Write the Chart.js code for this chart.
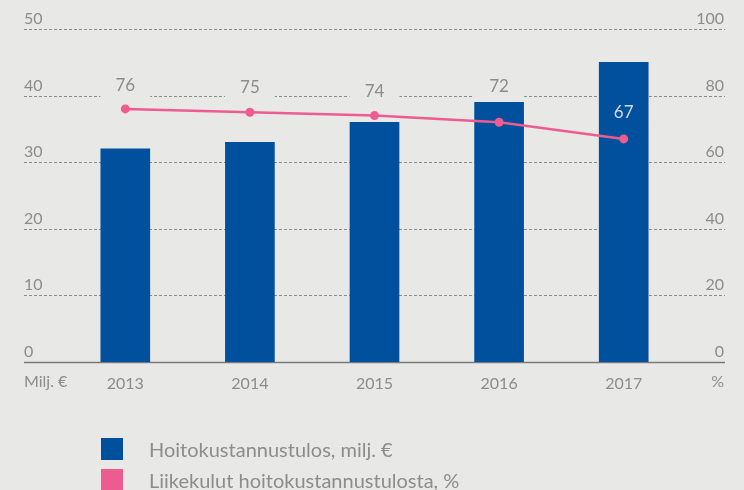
<!DOCTYPE html>
<html>
<head>
<meta charset="utf-8">
<script src="https://cdn.jsdelivr.net/npm/chart.js@4"></script>
<style>
  html, body { margin: 0; padding: 0; background: #e8e8e7; }
  #wrap { position: relative; width: 744px; height: 490px; overflow: hidden; }
  #c { position: absolute; left: 0; top: 0; }
  .legend { position: absolute; left: 101px; font: 20px Lato, "Open Sans", sans-serif; color: #8c8c8c; }
  .legend div { position: relative; height: 31px; line-height: 22px; padding-left: 48px; white-space: nowrap; }
  .legend span { position: absolute; left: 0; top: 0; width: 22px; height: 22px; }
</style>
</head>
<body>
<div id="wrap">
  <canvas id="c" width="744" height="490"></canvas>
  <div class="legend" style="top:438px">
    <div><span style="background:#00509e"></span>Hoitokustannustulos, milj. €</div>
    <div><span style="background:#ee5b90"></span>Liikekulut hoitokustannustulosta, %</div>
  </div>
</div>
<script>
const years      = ["2013", "2014", "2015", "2016", "2017"];
const result     = [32, 33, 36, 39, 45];      // milj. €
const costShare  = [76, 75, 74, 72, 67];      // %
const leftTicks  = [0, 10, 20, 30, 40, 50];
const rightTicks = [0, 20, 40, 60, 80, 100];

const BG    = "#e8e8e7";
const GREY  = "#8c8c8c";
const FONT  = "Lato, 'Open Sans', sans-serif";
const lift  = [23, 25, 24, 36, 26];           // label distance above point, px

// grid, axis labels and label masks go under the bars
const decor = {
  id: "decor",
  beforeDatasetsDraw(chart) {
    const { ctx, scales: { x, y } } = chart;
    const L = 24, R = 725;
    ctx.save();
    ctx.font = `16px ${FONT}`;
    ctx.fillStyle = GREY;
    ctx.textBaseline = "alphabetic";
    leftTicks.forEach((v, i) => {
      const py = Math.round(y.getPixelForValue(v)) + 0.5;
      ctx.strokeStyle = i === 0 ? "#7a7a7a" : "#8a8a8a";
      ctx.lineWidth = i === 0 ? 1.5 : 1;
      ctx.setLineDash(i === 0 ? [] : [3, 2]);
      ctx.beginPath(); ctx.moveTo(L, py); ctx.lineTo(R, py); ctx.stroke();
      ctx.textAlign = "left";
      ctx.fillText(String(v), L, py - 6);
      ctx.textAlign = "right";
      ctx.fillText(String(rightTicks[i]), R - 1, py - 6);
    });
    ctx.setLineDash([]);
    ctx.textBaseline = "middle";
    ctx.textAlign = "left";
    ctx.fillText("Milj. €", L, x.top + 20);
    ctx.textAlign = "right";
    ctx.fillText("%", R - 1, x.top + 20);
    // masks behind the value labels
    const line = chart.getDatasetMeta(0);
    ctx.fillStyle = BG;
    line.data.forEach((pt, i) => {
      const ly = pt.y - lift[i];
      ctx.fillRect(pt.x - 25, ly - 13, 50, 26);
    });
    ctx.restore();
  },
  afterDatasetsDraw(chart) {
    const { ctx } = chart;
    const line = chart.getDatasetMeta(0);
    const bars = chart.getDatasetMeta(1);
    ctx.save();
    ctx.font = `17px ${FONT}`;
    ctx.textAlign = "center";
    ctx.textBaseline = "middle";
    line.data.forEach((pt, i) => {
      const ly = pt.y - lift[i];
      ctx.fillStyle = ly > bars.data[i].y ? "#d3dae6" : GREY;
      ctx.fillText(String(costShare[i]), pt.x, ly);
    });
    ctx.restore();
  }
};

new Chart(document.getElementById("c"), {
  type: "bar",
  data: {
    labels: years,
    datasets: [
      { type: "line", label: "Liikekulut hoitokustannustulosta, %", data: costShare, yAxisID: "y1",
        borderColor: "#ee5b90", backgroundColor: "#ee5b90", borderWidth: 2.5, pointRadius: 4.5,
        pointBorderWidth: 0, pointBackgroundColor: "#ee5b90", tension: 0, order: 0 },
      { label: "Hoitokustannustulos, milj. €", data: result, yAxisID: "y",
        backgroundColor: "#00509e", barThickness: 49, order: 1 },
    ],
  },
  options: {
    responsive: false, animation: false,
    layout: { padding: { left: 63, right: 58, top: 29, bottom: 90 } },
    plugins: { legend: { display: false }, tooltip: { enabled: false } },
    scales: {
      x: {
        grid: { display: false }, border: { display: false },
        ticks: { color: GREY, font: { size: 16, family: FONT }, padding: 4 },
        afterFit: s => { s.height = 38; },
      },
      y:  { display: false, min: 0, max: 50 },
      y1: { display: false, min: 0, max: 100, position: "right" },
    },
  },
  plugins: [decor],
});
</script>
</body>
</html>
